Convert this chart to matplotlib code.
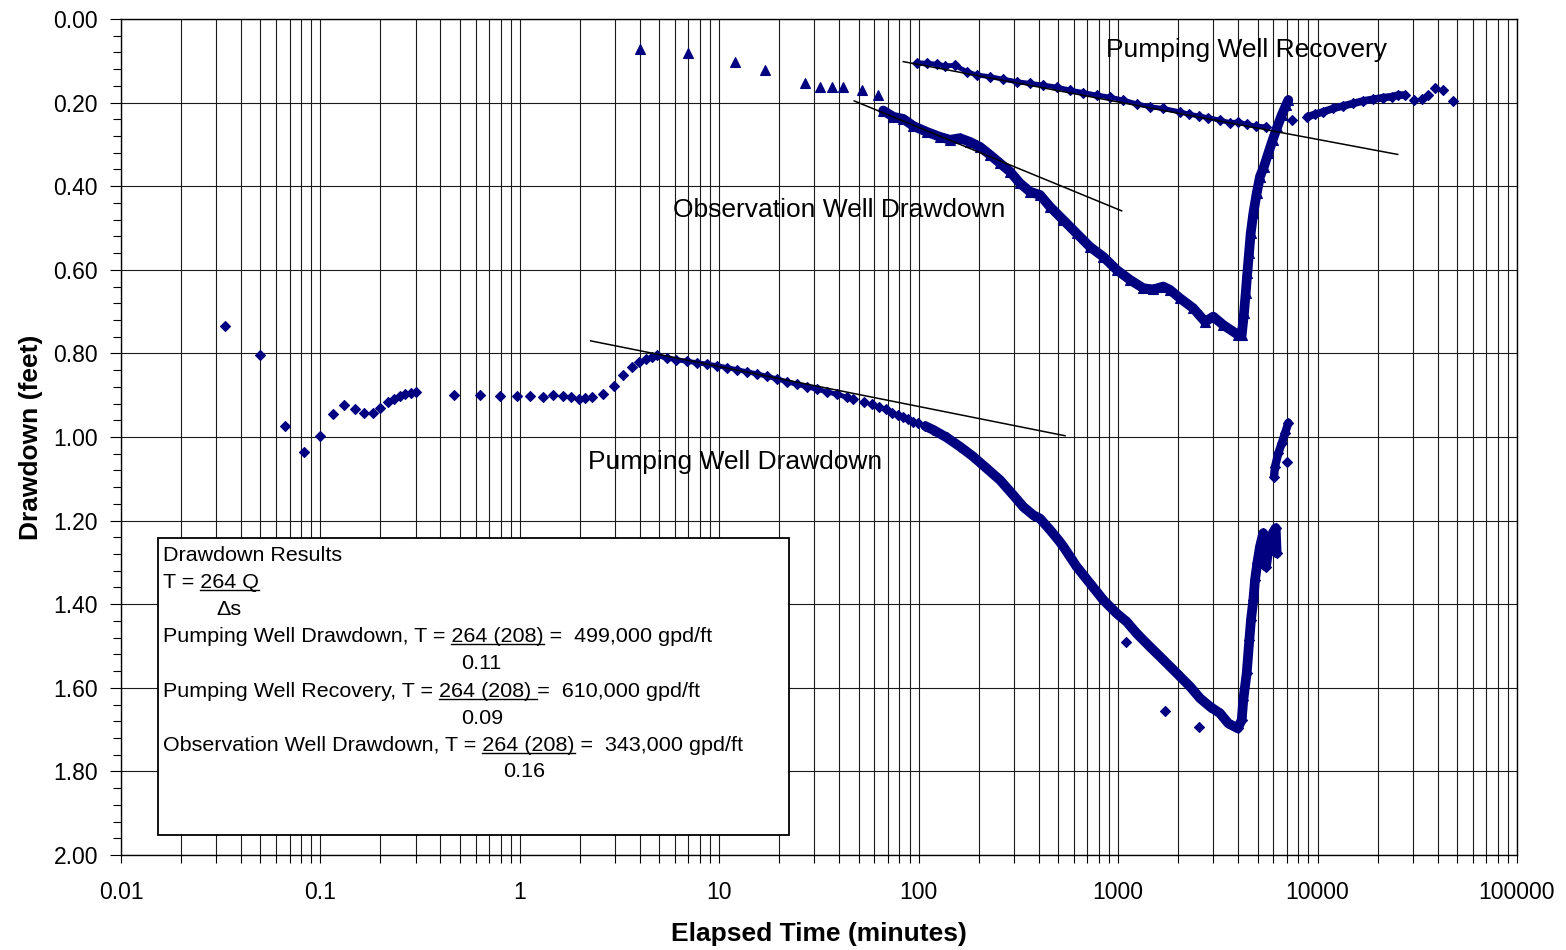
import matplotlib
matplotlib.use("Agg")
import matplotlib.pyplot as plt
import numpy as np
from matplotlib.ticker import (LogLocator, FixedLocator, MultipleLocator,
                               FuncFormatter, NullFormatter)
from matplotlib.patches import Rectangle

plt.rcParams['font.family'] = ['Liberation Sans', 'DejaVu Sans']

# ---------------------------------------------------------------------------
# Pumping well drawdown (elapsed minutes, drawdown in feet)
# ---------------------------------------------------------------------------
pw_t_early = [0.0333, 0.0498, 0.0664, 0.0827, 0.0999, 0.116, 0.132, 0.149,
              0.166, 0.183, 0.200, 0.217, 0.233, 0.250, 0.267, 0.284, 0.300,
              0.468, 0.631, 0.798, 0.968, 1.13, 1.30, 1.47, 1.64, 1.80, 1.97,
              2.13, 2.31, 2.62, 2.97, 3.29, 3.65, 3.97, 4.28, 4.58]
pw_d_early = [0.734, 0.805, 0.973, 1.036, 0.998, 0.945, 0.924, 0.933,
              0.943, 0.943, 0.930, 0.916, 0.908, 0.903, 0.897, 0.895, 0.892,
              0.900, 0.900, 0.903, 0.902, 0.903, 0.904, 0.900, 0.902, 0.904,
              0.909, 0.906, 0.904, 0.896, 0.877, 0.852, 0.833, 0.820, 0.813,
              0.808]

pw_t_slope = [4.85, 5.45, 6.1, 6.9, 7.7, 8.7, 9.7, 10.9, 12.3, 13.8, 15.5,
              17.4, 19.5, 21.9, 24.6, 27.6, 31.0, 34.8, 39.0, 43.8, 47.0]
pw_d_slope = [0.805, 0.811, 0.815, 0.819, 0.822, 0.826, 0.829, 0.834, 0.839,
              0.844, 0.849, 0.855, 0.861, 0.868, 0.874, 0.880, 0.886, 0.892,
              0.898, 0.905, 0.910]

pw_t_mid = [53.3, 58.3, 63.4, 68.5, 73.8, 78.4, 83.7, 88.7, 94.0, 98.8]
pw_d_mid = [0.916, 0.922, 0.928, 0.933, 0.942, 0.947, 0.951, 0.956, 0.963,
            0.967]

pw_t_band = [108, 118.3, 138, 161, 187.8, 219, 255.6, 298, 334.5, 375.4,
             405.5, 455, 501, 531, 619, 722, 843, 983, 1104, 1239, 1445,
             1684, 1966, 2293, 2574, 2888, 3241, 3567, 3978, 4165, 4242,
             4412, 4547, 4634, 4762, 4856, 4986, 5144, 5343, 5513, 5662,
             5957, 6166, 6238]
pw_d_band = [0.974, 0.983, 1.001, 1.023, 1.047, 1.075, 1.103, 1.139, 1.167,
             1.187, 1.195, 1.222, 1.246, 1.262, 1.310, 1.350, 1.390, 1.422,
             1.442, 1.470, 1.502, 1.533, 1.565, 1.597, 1.625, 1.645, 1.661,
             1.685, 1.697, 1.677, 1.629, 1.565, 1.486, 1.438, 1.390, 1.342,
             1.302, 1.262, 1.230, 1.310, 1.270, 1.230, 1.218, 1.278]

pw_t_tail = [6047, 6117, 6353, 6609, 6866, 7135]
pw_d_tail = [1.095, 1.071, 1.039, 1.015, 0.991, 0.966]

pw_t_stray = [1095, 1712, 2553, 6998]
pw_d_stray = [1.490, 1.655, 1.693, 1.061]

# ---------------------------------------------------------------------------
# Observation well drawdown
# ---------------------------------------------------------------------------
ow_t_early = [4.00, 6.99, 12.0, 16.95, 27.0, 32.0, 36.9, 41.9, 51.8, 62.3]
ow_d_early = [0.072, 0.081, 0.102, 0.122, 0.152, 0.162, 0.162, 0.162, 0.171,
              0.181]

ow_t_band = [66.4, 74.6, 83.7, 94.0, 109.7, 127.9, 143.5, 161, 180.7, 203,
             227.8, 255.6, 286.8, 322, 361, 405.5, 455, 531, 619, 722, 843,
             983, 1147, 1337, 1501, 1684, 1820, 2042, 2382, 2726, 3000, 3366,
             4005, 4165, 4276, 4361, 4442, 4530, 4620, 4762, 4951, 5144,
             5386, 5662, 5957, 6281, 6609, 6950, 7135]
ow_d_band = [0.219, 0.234, 0.239, 0.256, 0.270, 0.282, 0.289, 0.285, 0.294,
             0.306, 0.325, 0.345, 0.365, 0.393, 0.413, 0.421, 0.449, 0.481,
             0.513, 0.545, 0.569, 0.600, 0.624, 0.644, 0.647, 0.640, 0.648,
             0.668, 0.692, 0.724, 0.712, 0.732, 0.756, 0.756, 0.704, 0.656,
             0.608, 0.561, 0.513, 0.465, 0.417, 0.377, 0.353, 0.321, 0.289,
             0.258, 0.230, 0.206, 0.194]

# ---------------------------------------------------------------------------
# Pumping well recovery
# ---------------------------------------------------------------------------
rec_t_early = [97.7, 109.7, 123, 135.5, 152, 174, 195.4, 227.8, 265.5, 310,
               361, 421.5, 492, 574, 669, 781, 911, 1062, 1239, 1445, 1684,
               2042, 2275, 2544, 2831, 3241, 3640, 4005, 4412, 4894, 5495]
rec_d_early = [0.1045, 0.106, 0.108, 0.112, 0.111, 0.126, 0.134, 0.138,
               0.144, 0.150, 0.154, 0.158, 0.163, 0.170, 0.176, 0.182, 0.187,
               0.194, 0.203, 0.210, 0.214, 0.222, 0.228, 0.232, 0.236, 0.242,
               0.248, 0.246, 0.252, 0.256, 0.258]

rec_t_late = [8885, 9706, 10690, 11990, 13460, 15100, 16940, 19030, 21360,
              23530, 25400, 27430]
rec_d_late = [0.234, 0.228, 0.222, 0.214, 0.208, 0.202, 0.196, 0.192, 0.188,
              0.186, 0.182, 0.182]

rec_t_loose = [7417, 30550, 33270, 35650, 38800, 42700, 47550]
rec_d_loose = [0.242, 0.194, 0.192, 0.183, 0.166, 0.171, 0.196]

# Straight-line (Cooper-Jacob) fits
pw_fit_t = [2.265, 541.5]
pw_fit_d = [0.770, 0.997]
ow_fit_t = [47.5, 1042]
ow_fit_d = [0.196, 0.459]
rec_fit_t = [83.7, 25220]
rec_fit_d = [0.102, 0.324]

# Tick values
x_ticks = [0.01, 0.1, 1, 10, 100, 1000, 10000, 100000]
y_ticks = [0.0, 0.2, 0.4, 0.6, 0.8, 1.0, 1.2, 1.4, 1.6, 1.8, 2.0]

NAVY = '#000080'
W, H = 1566, 950
AX_L, AX_R, AX_T, AX_B = 121, 1517, 19, 855

fig = plt.figure(figsize=(W / 100, H / 100), dpi=100)
ax = fig.add_axes([AX_L / W, 1 - AX_B / H, (AX_R - AX_L) / W,
                   (AX_B - AX_T) / H])
ax.set_xscale('log')
ax.set_xlim(x_ticks[0], x_ticks[-1])
ax.set_ylim(y_ticks[-1], y_ticks[0])

# grid
ax.set_axisbelow(True)
ax.grid(True, which='both', axis='x', color='#1a1a1a', lw=0.8)
ax.grid(True, which='major', axis='y', color='#1a1a1a', lw=0.8)

# ticks
ax.xaxis.set_major_locator(FixedLocator(x_ticks))
ax.xaxis.set_minor_locator(LogLocator(base=10, subs=np.arange(2, 10),
                                      numticks=100))
ax.xaxis.set_major_formatter(FuncFormatter(lambda v, p: f'{v:g}'))
ax.xaxis.set_minor_formatter(NullFormatter())
ax.yaxis.set_major_locator(FixedLocator(y_ticks))
ax.yaxis.set_minor_locator(MultipleLocator(0.04))
ax.yaxis.set_major_formatter(FuncFormatter(lambda v, p: f'{abs(v):.2f}'))
ax.tick_params(axis='x', which='both', direction='out', length=6, width=0.8,
               pad=13, labelsize=16.5, colors='black')
ax.tick_params(axis='y', which='major', direction='out', length=8, width=0.8,
               pad=8.5, labelsize=16.5)
ax.tick_params(axis='y', which='minor', direction='out', length=6, width=0.8)
for sp in ax.spines.values():
    sp.set_color('black')
    sp.set_linewidth(1.0)


def draw_points(t, d, marker, ms, band=None, z=3):
    if band:
        ax.plot(t, d, '-', color=NAVY, lw=band, solid_capstyle='round',
                solid_joinstyle='round', zorder=z)
    ax.plot(t, d, linestyle='none', marker=marker, ms=ms, mfc=NAVY, mec=NAVY,
            mew=0.8, zorder=z)


DM = 5.0   # diamond size
TM = 6.8   # triangle size

draw_points(pw_t_early, pw_d_early, 'D', DM)
draw_points(pw_t_slope, pw_d_slope, 'D', DM, band=3.5)
draw_points(pw_t_mid, pw_d_mid, 'D', DM)
draw_points(pw_t_band, pw_d_band, 'D', DM, band=7.0)
draw_points(pw_t_tail, pw_d_tail, 'D', DM, band=6.0)
draw_points(pw_t_stray, pw_d_stray, 'D', DM)

draw_points(ow_t_early, ow_d_early, '^', TM)
draw_points(ow_t_band, ow_d_band, '^', TM, band=7.0)

draw_points(rec_t_early, rec_d_early, 'D', DM, band=3.5)
draw_points(rec_t_late, rec_d_late, 'D', DM, band=5.5)
draw_points(rec_t_loose, rec_d_loose, 'D', DM)

for ft, fd in [(pw_fit_t, pw_fit_d), (ow_fit_t, ow_fit_d),
               (rec_fit_t, rec_fit_d)]:
    ax.plot(ft, fd, color='black', lw=1.1, zorder=5)

# curve labels
LBL = 19
ax.text(869, 0.0909, 'Pumping Well Recovery', fontsize=LBL, va='baseline',
        ha='left', zorder=6)
ax.text(5.88, 0.4737, 'Observation Well Drawdown', fontsize=LBL,
        va='baseline', ha='left', zorder=6)
ax.text(2.197, 1.0766, 'Pumping Well Drawdown', fontsize=LBL, va='baseline',
        ha='left', zorder=6)

# axis titles
ax.set_xlabel('Elapsed Time (minutes)', fontsize=19, fontweight='bold')
ax.set_ylabel('Drawdown (feet)', fontsize=19, fontweight='bold')
ax.xaxis.set_label_coords(0.5, -(921.7 - AX_B) / (AX_B - AX_T))
ax.yaxis.set_label_coords((43 - AX_L) / (AX_R - AX_L), 0.5)


def axpos(px, py):
    """Figure pixel position (y down) -> axes fraction."""
    return ((px - AX_L) / (AX_R - AX_L), 1 - (py - AX_T) / (AX_B - AX_T))


# results box
bx0, by0 = axpos(158, 835)
bx1, by1 = axpos(789, 538)
ax.add_patch(Rectangle((bx0, by0), bx1 - bx0, by1 - by0,
                       transform=ax.transAxes, facecolor='white',
                       edgecolor='black', lw=1.3, zorder=6, clip_on=False))

BOX_FS = 15.45
box_lines = [
    (163, 561, 'Drawdown Results', None),
    (163, 588, 'T = 264 Q', '264 Q'),
    (216, 615, '\u0394s', None),
    (163, 642, 'Pumping Well Drawdown, T = 264 (208) =  499,000 gpd/ft',
     '264 (208)'),
    (461, 669, '0.11', None),
    (163, 697, 'Pumping Well Recovery, T = 264 (208) =  610,000 gpd/ft',
     '264 (208) '),
    (461, 724, '0.09', None),
    (163, 751, 'Observation Well Drawdown, T = 264 (208) =  343,000 gpd/ft',
     '264 (208)'),
    (503, 777, '0.16', None),
]

fig.canvas.draw()
renderer = fig.canvas.get_renderer()


def text_width(s):
    t = fig.text(0, 0, s, fontsize=BOX_FS)
    w = t.get_window_extent(renderer).width
    t.remove()
    return w


for px, py, s, ul in box_lines:
    ax.text(*axpos(px, py), s, transform=ax.transAxes, fontsize=BOX_FS,
            va='baseline', ha='left', zorder=7)
    if ul:
        core = ul.strip()
        head = s[:s.index(core) + len(core)]
        x_end = px + text_width(head)
        x_start = x_end - text_width(core)
        if ul.endswith(' '):
            x_end += 0.28 * BOX_FS * 100 / 72
        (ux0, uy), (ux1, _) = axpos(x_start, py + 2), axpos(x_end, py + 2)
        ax.plot([ux0, ux1], [uy, uy], color='black', lw=1.0,
                transform=ax.transAxes, clip_on=False, zorder=7)

fig.savefig('out.png', dpi=100)
